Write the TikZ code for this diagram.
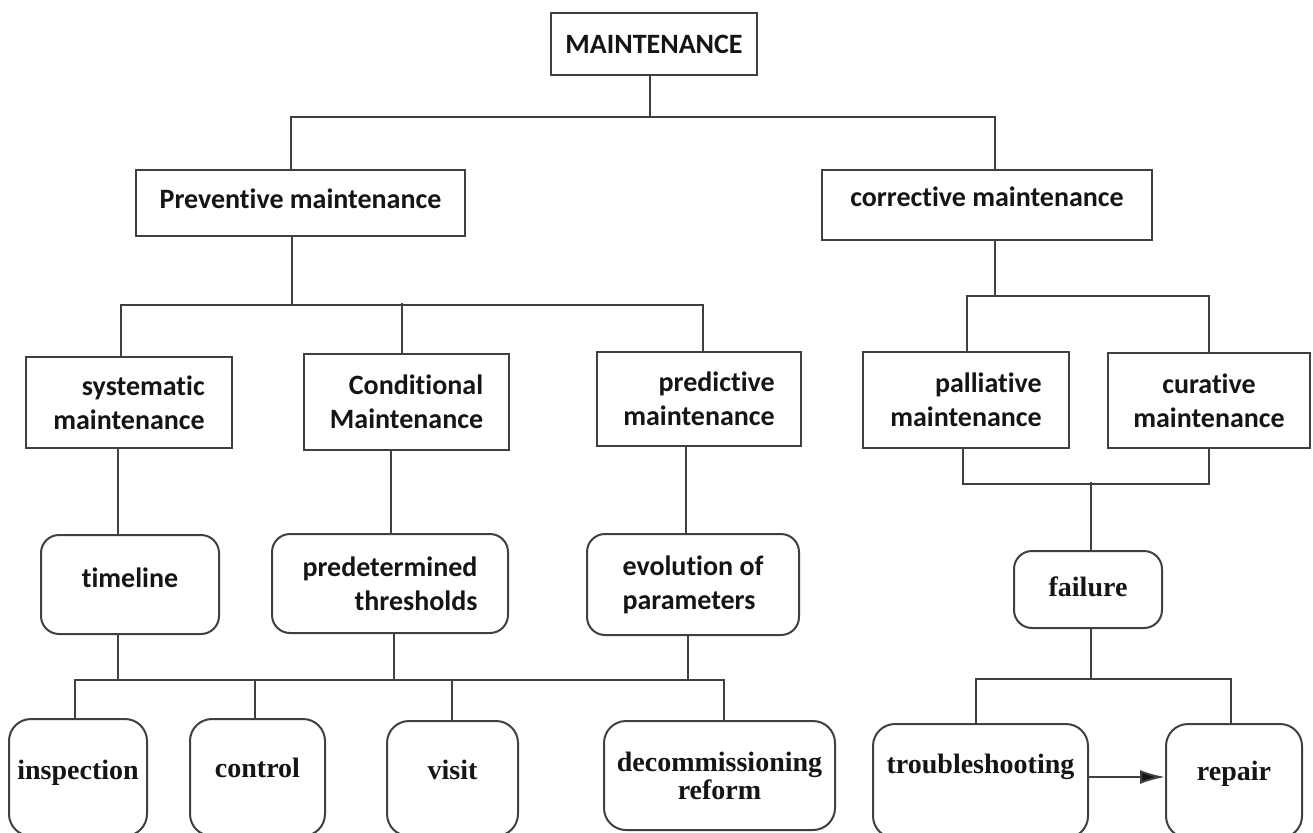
\documentclass[tikz,border=0pt]{standalone}
\usepackage{fontspec}
\setmainfont{Carlito}[Ligatures=NoCommon]
\newfontfamily\timesbold{Liberation Serif}
\usetikzlibrary{arrows.meta}
\definecolor{linegray}{HTML}{404040}
\definecolor{ink}{HTML}{151515}

\begin{document}
\begin{tikzpicture}[x=1pt,y=-1pt,
  sqbox/.style={draw=linegray, line width=2pt, fill=white, inner sep=0pt, text=ink,
                font=\bfseries\fontsize{28}{34}\selectfont},
  rbox/.style={sqbox, rounded corners=18pt},
  tbox/.style={sqbox, rounded corners=22pt,
               font=\timesbold\bfseries\fontsize{28}{28}\selectfont},
  size/.style 2 args={minimum width=#1pt, minimum height=#2pt},
  link/.style={draw=linegray, line width=2pt}]

\useasboundingbox (0,0) rectangle (1313,832);
\fill[white] (0,0) rectangle (1313,832);
\clip (0,0) rectangle (1313,832);

% root and the two families
\node[sqbox, size={206}{62}] (main) at (654,44) {MAINTENANCE};
\node[sqbox, size={329}{66}, text height=18pt, text depth=8pt] (prev) at (300.5,203) {Preventive maintenance};
\node[sqbox, size={330}{70}, text height=18pt, text depth=16pt] (corr) at (987,205) {corrective maintenance};

% kinds of maintenance
\node[sqbox, align=right, size={206}{91}] (sys) at (129,402.5) {systematic\\maintenance};
\node[sqbox, align=right, size={205}{96}] (cond) at (406.5,402) {Conditional\\Maintenance};
\node[sqbox, align=right, size={204}{94}] (pred) at (699,399) {predictive\\maintenance};
\node[sqbox, align=right, size={206}{96}] (pall) at (966,400) {palliative\\maintenance};
\node[sqbox, align=center, size={202}{95}] (cur) at (1209,400.5) {curative\\maintenance};

% triggers
\node[rbox, size={178}{99}, text height=18pt, text depth=13pt] (tl) at (130,584.5) {timeline};
\node[rbox, align=right, size={236}{99}] (pdt) at (390,583.5) {predetermined\\thresholds};
\node[rbox, align=left, size={212}{101}] (evo) at (693,584.5) {evolution of\\parameters};
\node[tbox, rounded corners=18pt, size={148}{77}, text height=19pt, text depth=6pt] (fail) at (1088,589.5) {failure};

% operations
\node[tbox, size={138}{117}, text height=16pt, text depth=13pt] (insp) at (78,777.5) {inspection};
\node[tbox, size={135}{117}, text height=14pt, text depth=15pt] (ctrl) at (257.5,777.5) {control};
\node[tbox, size={131}{115}, text height=15pt, text depth=14pt] (vis) at (452.5,778.5) {visit};
\node[tbox, align=center, size={231}{109}] (dec) at (719.5,775.5) {decommissioning\\reform};
\node[tbox, size={215}{114}, text height=6pt, text depth=22pt] (trb) at (980.5,781) {troubleshooting};
\node[tbox, size={136}{114}, text height=14pt, text depth=16pt] (rep) at (1234,781) {repair};

% root to families
\draw[link] ([xshift=-4pt]main.south) -- ++(0,41) coordinate (j0);
\draw[link] ([xshift=-9.5pt]prev.north) |- (j0) -| ([xshift=8pt]corr.north);

% preventive branch
\draw[link] ([xshift=-8.5pt]prev.south) -- ++(0,68) coordinate (j1);
\draw[link] ([xshift=-8pt]sys.north) |- (j1) -| ([xshift=4pt]pred.north);
\draw[link] ([xshift=-4.5pt]cond.north) -- ++(0,-50);

% corrective branch
\draw[link] ([xshift=8pt]corr.south) -- ++(0,55) coordinate (j2);
\draw[link] ([xshift=1pt]pall.north) |- (j2) -| (cur.north);
\draw[link] ([xshift=-3pt]pall.south) -- ++(0,35) coordinate (j3) -| (cur.south);
\draw[link] ([xshift=3pt]fail.north) -- ++(0,-68);

% kinds to triggers
\draw[link] ([xshift=-12pt]tl.north) -- ([xshift=-12pt]tl.north |- sys.south);
\draw[link] ([xshift=1pt]pdt.north) -- ([xshift=1pt]pdt.north |- cond.south);
\draw[link] ([xshift=-7pt]evo.north) -- ([xshift=-7pt]evo.north |- pred.south);

% triggers to operations
\draw[link] ([xshift=-12pt]tl.south) -- ++(0,45) coordinate (j4);
\draw[link] ([xshift=-3pt]insp.north) |- ([xshift=4.5pt]dec.north |- j4) -- ([xshift=4.5pt]dec.north);
\draw[link] ([xshift=4pt]pdt.south) -- ([xshift=4pt]pdt.south |- j4);
\draw[link] ([xshift=-5pt]evo.south) -- ([xshift=-5pt]evo.south |- j4);
\draw[link] ([xshift=-2.5pt]ctrl.north) -- ([xshift=-2.5pt]ctrl.north |- j4);
\draw[link] ([xshift=-0.5pt]vis.north) -- ([xshift=-0.5pt]vis.north |- j4);

% failure handling
\draw[link] ([xshift=3pt]fail.south) -- ++(0,50) coordinate (j5);
\draw[link] ([xshift=-4.5pt]trb.north) |- (j5) -| ([xshift=-3pt]rep.north);
\draw[link, -{Latex[length=25pt,width=14pt,fill=ink]}] ([yshift=4pt]trb.east) -- ([yshift=4pt]rep.west);

\end{tikzpicture}
\end{document}
